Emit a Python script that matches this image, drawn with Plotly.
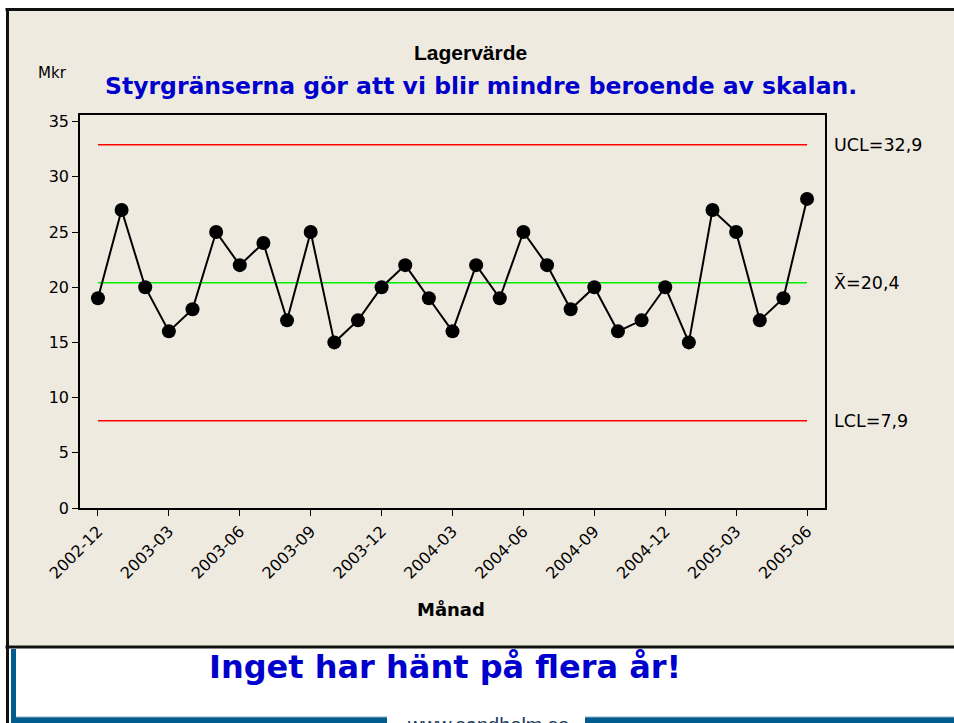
import plotly.graph_objects as go

# Lagervärde per månad (Mkr)
manader = ["2002-12", "2003-01", "2003-02", "2003-03", "2003-04", "2003-05", "2003-06",
           "2003-07", "2003-08", "2003-09", "2003-10", "2003-11", "2003-12", "2004-01",
           "2004-02", "2004-03", "2004-04", "2004-05", "2004-06", "2004-07", "2004-08",
           "2004-09", "2004-10", "2004-11", "2004-12", "2005-01", "2005-02", "2005-03",
           "2005-04", "2005-05", "2005-06"]
lagervarde = [19, 27, 20, 16, 18, 25, 22, 24, 17, 25, 15, 17, 20, 22, 19, 16,
              22, 19, 25, 22, 18, 20, 16, 17, 20, 15, 27, 25, 17, 19, 28]
ucl = 32.9
medel = 20.4
lcl = 7.9
y_ticks = [0, 5, 10, 15, 20, 25, 30, 35]
x_tick_etiketter = manader[::3]

W, H = 954, 723


def px_x(p):
    return p / W


def px_y(p):
    return 1 - p / H


fig = go.Figure()

# styrgränser
for varde, farg in [(ucl, "#ff0000"), (medel, "#00ee00"), (lcl, "#ff0000")]:
    fig.add_trace(go.Scatter(
        x=[manader[0], manader[-1]], y=[varde, varde], mode="lines",
        line=dict(color=farg, width=1.5), hoverinfo="skip", showlegend=False
    ))

fig.add_trace(go.Scatter(
    x=manader, y=lagervarde, mode="lines+markers",
    line=dict(color="black", width=2),
    marker=dict(color="black", size=14),
    showlegend=False
))

fig.update_layout(
    template="none",
    width=W, height=H,
    margin=dict(l=0, r=0, t=0, b=0),
    paper_bgcolor="white",
    plot_bgcolor="white",
    font=dict(family="DejaVu Sans", color="black", size=16),
    xaxis=dict(
        domain=[px_x(80), px_x(825)],
        type="category",
        categoryorder="array", categoryarray=manader,
        range=[-0.76, 30.76],
        tickmode="array", tickvals=x_tick_etiketter, ticktext=x_tick_etiketter,
        tickangle=-45, ticks="outside", ticklen=6, tickcolor="black",
        showline=True, linecolor="black", linewidth=1.5, mirror=True,
        showgrid=False, zeroline=False, automargin=False,
        tickfont=dict(size=16),
    ),
    yaxis=dict(
        domain=[px_y(508), px_y(115)],
        range=[0, 35.6],
        tickvals=y_ticks,
        ticks="outside", ticklen=6, tickcolor="black",
        showline=True, linecolor="black", linewidth=1.5, mirror=True,
        showgrid=False, zeroline=False, automargin=False,
        tickfont=dict(size=16),
    ),
)

# bakgrund och ramar
BLA = "#005b8f"
RAM = "#111111"
shapes = [
    dict(type="rect", xref="paper", yref="paper", layer="below",
         x0=px_x(7), x1=px_x(1000), y0=px_y(647), y1=px_y(9.5),
         fillcolor="#efeae0", line=dict(width=0)),
    dict(type="line", xref="paper", yref="paper", layer="below",
         x0=px_x(5.5), x1=px_x(1000), y0=px_y(9.5), y1=px_y(9.5),
         line=dict(color=RAM, width=3)),
    dict(type="line", xref="paper", yref="paper", layer="below",
         x0=px_x(5.5), x1=px_x(1000), y0=px_y(647), y1=px_y(647),
         line=dict(color=RAM, width=3)),
    dict(type="line", xref="paper", yref="paper", layer="below",
         x0=px_x(7.5), x1=px_x(7.5), y0=px_y(8), y1=px_y(740),
         line=dict(color=RAM, width=3)),
    dict(type="rect", xref="paper", yref="paper", layer="below",
         x0=px_x(11), x1=px_x(16), y0=px_y(740), y1=px_y(649),
         fillcolor=BLA, line=dict(width=0)),
    dict(type="rect", xref="paper", yref="paper", layer="below",
         x0=px_x(11), x1=px_x(387), y0=px_y(740), y1=px_y(717),
         fillcolor=BLA, line=dict(width=0)),
    dict(type="rect", xref="paper", yref="paper", layer="below",
         x0=px_x(585), x1=px_x(1000), y0=px_y(740), y1=px_y(717),
         fillcolor=BLA, line=dict(width=0)),
    dict(type="line", xref="paper", yref="paper", layer="below",
         x0=px_x(16), x1=px_x(387), y0=px_y(717), y1=px_y(717),
         line=dict(color="#8fb3cc", width=1)),
    dict(type="line", xref="paper", yref="paper", layer="below",
         x0=px_x(585), x1=px_x(1000), y0=px_y(717), y1=px_y(717),
         line=dict(color="#8fb3cc", width=1)),
]
fig.update_layout(shapes=shapes)

annots = [
    dict(text="<b>Lagervärde</b>", x=px_x(470), y=px_y(53),
         font=dict(family="Liberation Sans", size=21, color="black")),
    dict(text="<b>Styrgränserna gör att vi blir mindre beroende av skalan.</b>",
         x=px_x(481), y=px_y(86),
         font=dict(family="DejaVu Sans", size=23.5, color="#0000cc")),
    dict(text="Mkr", x=px_x(52), y=px_y(73),
         font=dict(family="DejaVu Sans", size=15, color="black")),
    dict(text="<b>Månad</b>", x=px_x(451), y=px_y(609),
         font=dict(family="DejaVu Sans", size=18, color="black")),
    dict(text="<b>Inget har hänt på flera år!</b>", x=px_x(445), y=px_y(667),
         font=dict(family="DejaVu Sans", size=32, color="#0000cc")),
    dict(text="www.sandholm.se", x=px_x(488), y=px_y(712), yanchor="top",
         font=dict(family="Liberation Sans", size=20, color="#1b3a5e")),
]
for a in annots:
    a.setdefault("yanchor", "middle")
    fig.add_annotation(xref="paper", yref="paper", xanchor="center",
                       showarrow=False, **a)

# etiketter för styrgränser
for varde, text in [(ucl, "UCL=32,9"), (medel, "X\u0304=20,4"), (lcl, "LCL=7,9")]:
    fig.add_annotation(xref="paper", yref="y", x=px_x(832), y=varde,
                       xanchor="left", yanchor="middle", showarrow=False,
                       text=text, font=dict(family="DejaVu Sans", size=17.5, color="black"))

# ta bort sidans standardmarginal så att figuren fyller fönstret
fig.write_html("out.html", config={"displayModeBar": False},
               post_script="document.body.style.margin='0';"
                           "document.body.style.overflow='hidden';")
